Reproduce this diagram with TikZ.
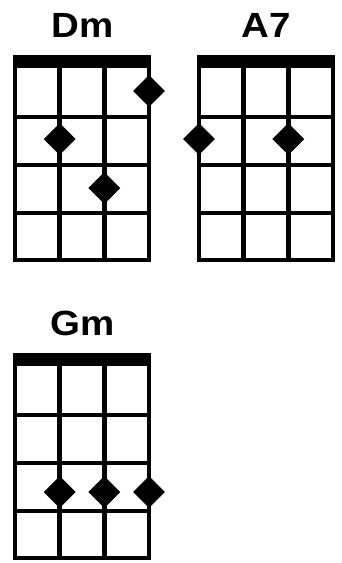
\documentclass[tikz,border=0pt]{standalone}
\usepackage{fontspec}
\setmainfont{Liberation Sans}
\usetikzlibrary{shapes.geometric}
\tikzset{
  gridline/.style={line width=4.8pt, line cap=rect},
  stringline/.style={line width=4.8pt},
  nutbar/.style={fill=black},
  dot/.style={diamond, fill=black, inner sep=0pt, minimum width=32pt, minimum height=32pt},
  chordname/.style={font=\bfseries\fontsize{35}{35}\selectfont, inner sep=0pt, anchor=base, xscale=1.1}
}
\newcommand{\chordgrid}[3]{%
  \begin{scope}[shift={(#1,#2)}]
    \node[chordname] (t#3) at (67.5,-18) {#3};
    \fill[nutbar] (-2.4,0) rectangle (136.4,12.5);
    \foreach \i in {0,1,2,3} {\draw[stringline] ({\i*44.67},0) -- ({\i*44.67},207.4);}
    \foreach \yy in {62,110,158,205} {\draw[gridline] (0,\yy) -- (134,\yy);}
  \end{scope}}
\begin{document}
\begin{tikzpicture}[x=1pt,y=-1pt]
  \useasboundingbox (0,0) rectangle (342,563);
  \chordgrid{15}{55}{Dm}
  \chordgrid{199}{55}{A7}
  \chordgrid{15}{353}{Gm}
  % Dm
  \node[dot] (dm1) at (149,91) {};
  \node[dot] (dm2) at (59.67,139) {};
  \node[dot] (dm3) at (104.33,188) {};
  % A7
  \node[dot] (a1) at (199,139) {};
  \node[dot] (a2) at (288.33,139) {};
  % Gm
  \node[dot] (g1) at (59.67,492) {};
  \node[dot] (g2) at (104.33,492) {};
  \node[dot] (g3) at (149,492) {};
\end{tikzpicture}
\end{document}
